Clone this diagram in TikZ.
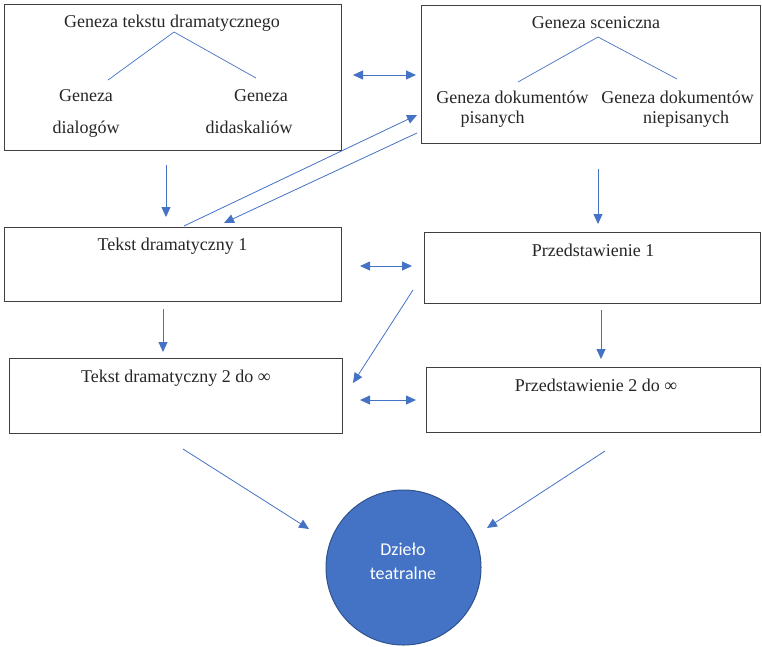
\documentclass[tikz,border=0pt]{standalone}
\usepackage{fontspec}
\setmainfont{Liberation Serif}
\newfontfamily\tnr{Liberation Serif}
\newfontfamily\carl{Carlito}
\usetikzlibrary{arrows.meta}
\definecolor{ablue}{HTML}{4472C4}
\definecolor{dblue}{HTML}{2F528F}
\definecolor{boxgray}{HTML}{404040}
\begin{document}
\begin{tikzpicture}[x=1pt,y=-1pt,
  box/.style={draw=boxgray,line width=1.2pt,anchor=north west,inner sep=0pt},
  lbl/.style={font=\tnr\fontsize{18}{22}\selectfont,text=black!85,inner sep=0pt,anchor=base},
  clbl/.style={font=\carl\fontsize{18}{22}\selectfont,text=white,inner sep=0pt,anchor=base},
  tip/.tip={Triangle[length=10pt,width=9pt]},
  conn/.style={draw=ablue,line width=0.8pt,-tip},
  biconn/.style={draw=ablue,line width=0.8pt,tip-tip},
  tree/.style={draw=ablue,line width=0.7pt}]
\useasboundingbox (0,0) rectangle (762,646);

% boxes
\node[box,minimum width=337pt,minimum height=146pt] (A) at (4,4) {};
\node[box,minimum width=339pt,minimum height=138pt] (B) at (421,5) {};
\node[box,minimum width=337pt,minimum height=74pt] (TD1) at (4,227) {};
\node[box,minimum width=336pt,minimum height=71pt] (P1) at (424,232) {};
\node[box,minimum width=333pt,minimum height=75pt] (TD2) at (9,358) {};
\node[box,minimum width=334pt,minimum height=65pt] (P2) at (426,367) {};
\node[circle,fill=ablue,draw=dblue,line width=1pt,minimum size=155pt,inner sep=0pt] (C) at (403.5,567.5) {};

% labels
\node[lbl] (tA) at (172,27) {Geneza tekstu dramatycznego};
\node[lbl] (tA1) at (86,101) {Geneza};
\node[lbl] (tA1b) at (86,133) {dialogów};
\node[lbl] (tA2) at (261,101) {Geneza};
\node[lbl] (tA2b) at (249,133) {didaskaliów};
\node[lbl] (tB) at (596,28) {Geneza sceniczna};
\node[lbl] (tB1) at (512.5,103) {Geneza dokumentów};
\node[lbl] (tB1b) at (492.5,123) {pisanych};
\node[lbl] (tB2) at (677.5,103) {Geneza dokumentów};
\node[lbl] (tB2b) at (686,123) {niepisanych};
\node[lbl] (tTD1) at (172.5,250) {Tekst dramatyczny 1};
\node[lbl] (tP1) at (593,256) {Przedstawienie 1};
\node[lbl] (tTD2) at (176,382) {Tekst dramatyczny 2 do ∞};
\node[lbl] (tP2) at (596,391) {Przedstawienie 2 do ∞};
\node[clbl] (tC1) at (403,555) {Dzieło};
\node[clbl] (tC2) at (403,579) {teatralne};

% tree coordinates
\coordinate (aA) at (174,32); \coordinate (aAl) at (108,80); \coordinate (aAr) at (256,78);
\coordinate (aB) at (598,37); \coordinate (aBl) at (518,82); \coordinate (aBr) at (677,79);
\draw[tree] (aAl) -- (aA) -- (aAr);
\draw[tree] (aBl) -- (aB) -- (aBr);

% connector coordinates
\coordinate (a1s) at (166,165); \coordinate (a1e) at (166,217);
\coordinate (a2s) at (598,169); \coordinate (a2e) at (598,224);
\coordinate (a3s) at (163,309); \coordinate (a3e) at (163,352);
\coordinate (a4s) at (601,310); \coordinate (a4e) at (601,359);
\coordinate (b1s) at (353,75);  \coordinate (b1e) at (416,75);
\coordinate (b2s) at (360,266); \coordinate (b2e) at (412,266);
\coordinate (b3s) at (360,400); \coordinate (b3e) at (416,400);
\coordinate (d1s) at (184,226); \coordinate (d1e) at (417,115);
\coordinate (d2s) at (417,133); \coordinate (d2e) at (224,223);
\coordinate (d3s) at (413,290); \coordinate (d3e) at (353,383);
\coordinate (c1s) at (183,449); \coordinate (c1e) at (309,529);
\coordinate (c2s) at (605,451); \coordinate (c2e) at (487,528);

\draw[conn] (a1s) -- (a1e);
\draw[conn] (a2s) -- (a2e);
\draw[conn] (a3s) -- (a3e);
\draw[conn] (a4s) -- (a4e);
\draw[biconn] (b1s) -- (b1e);
\draw[biconn] (b2s) -- (b2e);
\draw[biconn] (b3s) -- (b3e);
\draw[conn] (d1s) -- (d1e);
\draw[conn] (d2s) -- (d2e);
\draw[conn] (d3s) -- (d3e);
\draw[conn] (c1s) -- (c1e);
\draw[conn] (c2s) -- (c2e);
\end{tikzpicture}
\end{document}
